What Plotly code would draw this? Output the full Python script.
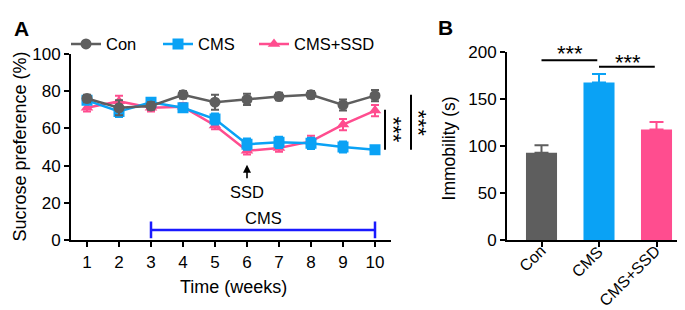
import plotly.graph_objects as go

# ---------------- data ----------------
weeks = [1, 2, 3, 4, 5, 6, 7, 8, 9, 10]
con_mean = [76, 71, 72, 78, 74, 75.5, 77, 78, 72.5, 77.5]
con_err = [2, 4, 2, 2, 4, 3, 2, 2, 3, 3]
cms_mean = [75, 69, 74, 71, 65, 51.5, 52.5, 52, 50, 48.5]
cms_err = [2, 3, 2, 2, 3, 3, 3, 3, 3, 2]
ssd_mean = [71, 74.5, 71, 71.5, 61.5, 48, 49.5, 53, 62, 69.5]
ssd_err = [2, 3, 2, 2, 2, 2, 2, 3, 3, 3]

groups = ["Con", "CMS", "CMS+SSD"]
immob_mean = [93, 167.5, 117.5]
immob_err = [8, 9, 8]

cms_period = [3, 10]
cms_period_y = 5.6
ssd_week = 6

GRAY = "#5e5e5e"
BLUE = "#0aa2f5"
PINK = "#ff4d8f"
DARKBLUE = "#1a1aff"
FONT = "Liberation Sans, Arial, sans-serif"

W, H = 685, 310

fig = go.Figure()

def line_trace(name, y, err, color, symbol, legend):
    return go.Scatter(
        x=weeks, y=y, name=name, mode="lines+markers",
        line=dict(color=color, width=2.5),
        marker=dict(color=color, size=11, symbol=symbol),
        error_y=dict(type="data", array=err, color=color, thickness=2, width=4),
        xaxis="x", yaxis="y", legend=legend,
    )

fig.add_trace(line_trace("CMS+SSD", ssd_mean, ssd_err, PINK, "triangle-up", "legend3"))
fig.add_trace(line_trace("CMS", cms_mean, cms_err, BLUE, "square", "legend2"))
fig.add_trace(line_trace("Con", con_mean, con_err, GRAY, "circle", "legend"))

# CMS period bar
fig.add_trace(go.Scatter(
    x=cms_period, y=[cms_period_y] * 2, mode="lines+markers",
    line=dict(color=DARKBLUE, width=2.5),
    marker=dict(symbol="line-ns-open", size=12, line=dict(color=DARKBLUE, width=2.5)),
    showlegend=False, xaxis="x", yaxis="y", hoverinfo="skip",
))

# Panel B bars
fig.add_trace(go.Bar(
    x=groups, y=immob_mean,
    marker=dict(color=[GRAY, BLUE, PINK], line=dict(width=0)),
    width=0.54, showlegend=False, xaxis="x2", yaxis="y2",
))
for g, m, e, c in zip(groups, immob_mean, immob_err, [GRAY, BLUE, PINK]):
    fig.add_trace(go.Scatter(
        x=[g], y=[m], mode="markers", marker=dict(size=1, color="rgba(0,0,0,0)"),
        error_y=dict(type="data", array=[e], arrayminus=[0], symmetric=False,
                     color=c, thickness=2, width=7),
        showlegend=False, xaxis="x2", yaxis="y2", hoverinfo="skip",
    ))

ax_common = dict(showline=True, linewidth=2, linecolor="black", ticks="outside",
                 ticklen=5, tickwidth=2, tickcolor="black", showgrid=False,
                 zeroline=False, tickfont=dict(size=17, color="black", family=FONT))

ya_bot = 1 - 238 / H
leg_common = dict(orientation="h", yanchor="middle", xanchor="left",
                  y=1 - 29 / H, font=dict(size=16.5, family=FONT, color="black"),
                  bgcolor="rgba(0,0,0,0)", itemclick=False, itemdoubleclick=False)
fig.update_layout(
    width=W, height=H, margin=dict(l=0, r=0, t=0, b=0),
    paper_bgcolor="white", plot_bgcolor="white",
    font=dict(family=FONT, size=16, color="black"),
    xaxis=dict(domain=[63 / W, 383 / W], range=[0.5, 10.5], tickvals=weeks,
               anchor="y", **ax_common),
    yaxis=dict(domain=[ya_bot, 1 - 39 / H], range=[0, 100], dtick=20,
               anchor="x", **ax_common),
    xaxis2=dict(domain=[499 / W, 683 / W], range=[-0.6, 2.6], type="category",
                showticklabels=False, anchor="y2", **ax_common),
    yaxis2=dict(domain=[ya_bot, 1 - 37 / H], range=[0, 200], dtick=50,
                anchor="x2", **ax_common),
    legend=dict(x=58 / W, **leg_common),
    legend2=dict(x=150 / W, **leg_common),
    legend3=dict(x=246 / W, **leg_common),
    showlegend=True,
)

def txt(text, x, y, size, angle=0, xref="paper", yref="paper", xa="center", ya="middle",
        xshift=0):
    return dict(text=text, x=x, y=y, xref=xref, yref=yref, textangle=angle,
                xanchor=xa, yanchor=ya, showarrow=False, xshift=xshift,
                font=dict(size=size, family=FONT, color="black"))

ann = [
    txt("<b>A</b>", 13 / W, 1 - 12 / H, 21),
    txt("<b>B</b>", 437 / W, 1 - 11 / H, 21),
    txt("Sucrose preference (%)", 12 / W, 1 - 138 / H, 18, -90),
    txt("Time (weeks)", 226 / W, 1 - 288 / H, 18),
    txt("Immobility (s)", 441 / W, 1 - 140 / H, 17.5, -90),
    txt("SSD", ssd_week, 25.8, 16.5, xref="x", yref="y"),
    txt("CMS", sum(cms_period) / 2, 12, 16.5, xref="x", yref="y"),
    # significance in A (rotated stars)
    txt("***", (385 - 63) / 320, (238 - 120) / 199, 22, 90, "x domain", "y domain"),
    txt("***", (411 - 63) / 320, (238 - 113) / 199, 22, 90, "x domain", "y domain"),
    # significance in B
    txt("***", 0.5 / 3.2 + 0.6 / 3.2, (238 - 39) / 201, 22, 0, "x2 domain", "y2 domain"),
    txt("***", 1.5 / 3.2 + 0.6 / 3.2, (238 - 48) / 201, 22, 0, "x2 domain", "y2 domain"),
]
# rotated category labels of panel B
for i, g in enumerate(groups):
    ann.append(txt(g, (i + 0.6) / 3.2, 1 - 237 / H, 16, -45, "x2 domain", "paper",
                   xa="right", ya="top", xshift=10))
ann.append(dict(text="", x=ssd_week, y=40.5, ax=ssd_week, ay=32.5, xref="x", yref="y",
                axref="x", ayref="y", showarrow=True, arrowhead=2, arrowwidth=1.6,
                arrowsize=1, arrowcolor="black"))
fig.update_layout(annotations=ann)

shapes = [
    dict(type="line", xref="x domain", yref="y domain", x0=(377 - 63) / 320,
         x1=(377 - 63) / 320, y0=48.5 / 100, y1=70 / 100, line=dict(color="black", width=2)),
    dict(type="line", xref="x domain", yref="y domain", x0=(403 - 63) / 320,
         x1=(403 - 63) / 320, y0=48.5 / 100, y1=78 / 100, line=dict(color="black", width=2)),
    dict(type="line", xref="x2", yref="y2", x0=0, x1=0.97, y0=191, y1=191,
         line=dict(color="black", width=2)),
    dict(type="line", xref="x2", yref="y2", x0=1, x1=1.97, y0=184, y1=184,
         line=dict(color="black", width=2)),
]
fig.update_layout(shapes=shapes)

fig.write_html("out.html")
